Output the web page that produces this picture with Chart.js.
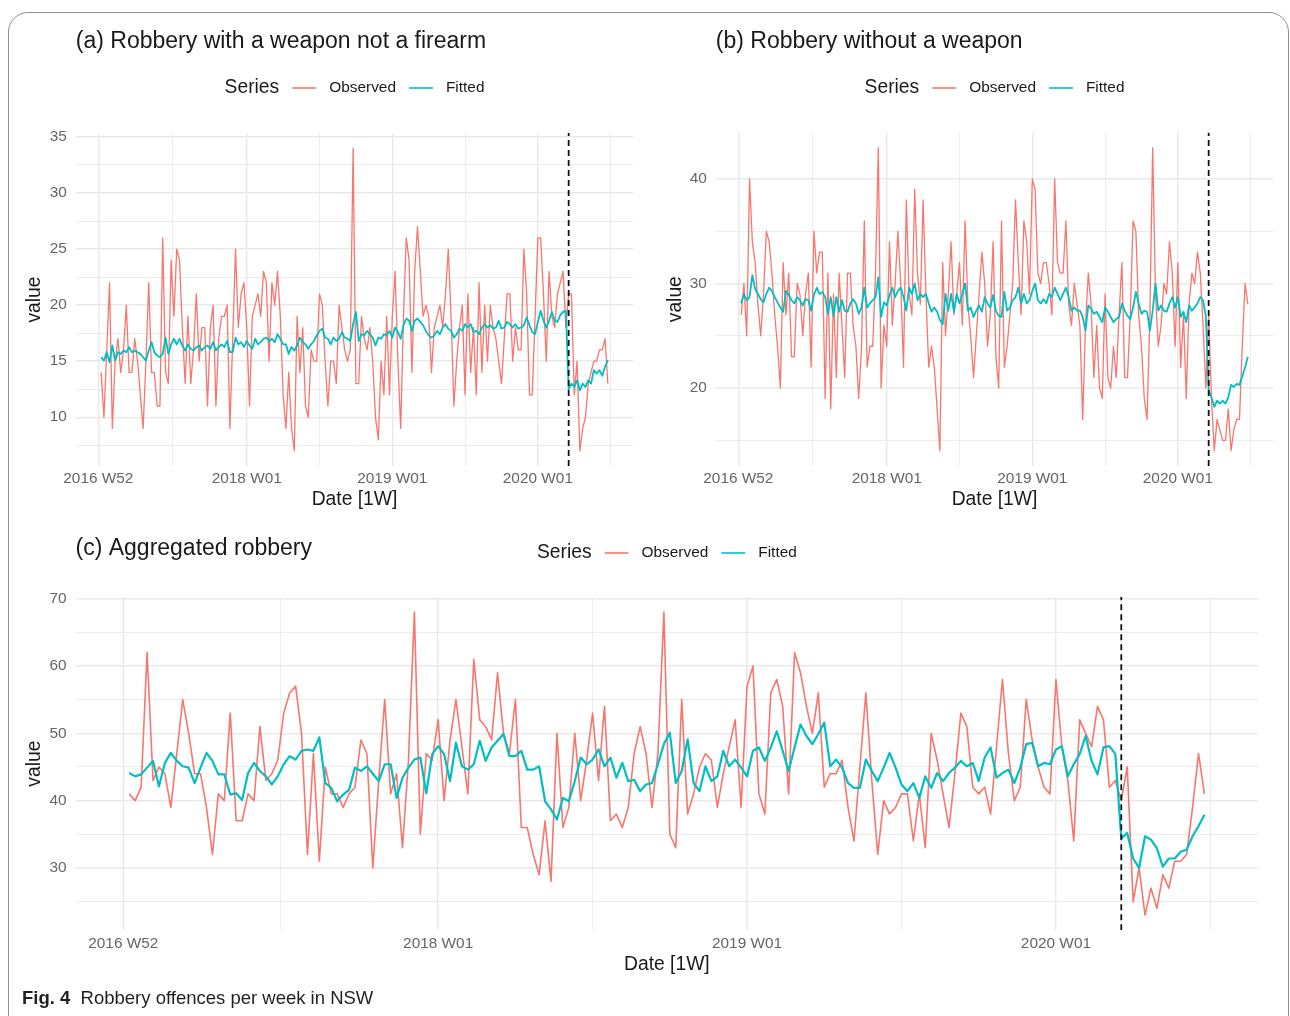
<!DOCTYPE html>
<html><head><meta charset="utf-8">
<script src="https://cdn.jsdelivr.net/npm/chart.js@4.4.0/dist/chart.umd.min.js"></script>
<style>
html,body{margin:0;padding:0;background:#fff;}
body{width:1290px;height:1016px;position:relative;overflow:hidden;font-family:"Liberation Sans",Arial,sans-serif;}
.frame{position:absolute;left:8px;top:12px;width:1281px;height:1100px;border:1px solid #8f8f8f;border-radius:20px;box-sizing:border-box;}
.cv{position:absolute;}
#caption{position:absolute;left:22px;top:987px;font-size:18.5px;line-height:22px;color:#231f20;white-space:nowrap;}
</style></head>
<body>
<div class="frame"></div>
<div class="cv" style="left:0;top:0;width:645px;height:525px"><canvas id="ca" width="645" height="525"></canvas></div>
<div class="cv" style="left:645px;top:0;width:645px;height:525px"><canvas id="cb" width="645" height="525"></canvas></div>
<div class="cv" style="left:0;top:525px;width:1290px;height:491px"><canvas id="cc" width="1290" height="491"></canvas></div>
<div id="caption"><b>Fig. 4</b>&nbsp;&nbsp;Robbery offences per week in NSW</div>
<script>
// ---------------- DATA ----------------
const xMajorLabels = ['2016 W52', '2018 W01', '2019 W01', '2020 W01'];
const interventionWeek = '2020 W12';
const seriesNames = ['Observed', 'Fitted'];

const yMajorA = [10, 15, 20, 25, 30, 35];
const yMajorB = [20, 30, 40];
const yMajorC = [30, 40, 50, 60, 70];

const obsA = [14,10,16,22,9,15,17,14,16,20, 14,14,17,15,12,9,15,22,14,14, 11,11,26,14,13,24,19,25,24,18,
  13,19,13,16,21,15,18,18,11,18, 20,11,17,19,19,20,9,17,25,18, 21,22,18,11,19,20,21,19,23,22,
  15,22,20,23,19,12,9,14,9,7, 19,14,18,11,10,16,15,15,21,20, 15,11,15,15,13,20,18,16,15,16,
  34,13,13,19,17,16,18,15,10,8, 15,12,19,12,19,23,15,9,19,26, 24,14,23,27,23,19,20,19,14,18,
  19,20,18,21,25,19,11,15,18,20, 12,21,14,18,12,22,14,20,15,20, 18,17,15,13,17,21,21,15,18,16,
  16,25,21,12,12,19,26,26,21,15, 23,19,18,21,22,23,18,21,21,12, 15,7,9,10,13,14,15,15,16,16, 17,13];
const fitA = [15.35,15.05,15.8,14.9,16.4,15.05,15.8,15.65,15.95,15.8, 16.25,15.8,15.95,15.8,15.65,15.35,15.05,15.95,16.7,15.8,
  15.5,15.35,15.65,17.1,15.65,16.5,17,16.5,17,16.4, 15.95,16.5,16.1,15.95,16.25,16.4,15.95,16.25,16.4,16.1,
  16.7,15.95,16.25,16.5,16.25,16.8,15.8,15.8,17.1,16.5, 16.7,16.25,16.8,16.4,16.1,17,16.5,16.7,17,17.1,
  16.8,17,16.7,17.4,17,16.5,16.5,15.65,16.25,15.95, 16.4,17.1,16.7,16.5,16.1,16.5,16.8,17.3,17.7,17.9,
  17.1,17,16.5,17.1,16.8,17,17.6,17.1,17,16.8, 18.3,19.4,16.8,17.4,17.3,17.7,17.4,17.1,16.4,17.1,
  17,17.4,17.3,17.7,17.1,18,17.6,17,18.2,18.8, 18.6,17.7,18.6,18.8,18.5,18.2,17.7,17.3,17.1,17.3,
  17.7,17.4,18,18.3,17.9,17.7,17.1,17.4,17.9,17.7, 18.3,18,18.3,17.6,17.7,17.4,18,18.3,18,18.2,
  17.9,18,18.6,17.9,18,18.5,18.3,18,18.3,17.9, 18,18.2,18.9,18.2,17.6,17.4,18.5,19.5,18.6,18,
  18.6,19.4,18.6,18.5,19.1,19.4,19.5,12.5,13,12.7, 13.3,12.4,13,12.7,13.3,13,14.2,13.9,14.2,13.7, 14.5,15.1];

const obsB = [27,30,25,40,34,32,28,25,29,35, 34,31,27,24,20,32,27,31,23,23, 30,29,25,29,31,22,35,31,33,33,
  19,31,18,29,21,31,26,21,31,31, 26,24,19,24,36,22,24,24,31,43, 20,26,24,34,26,30,35,30,22,38,
  29,27,39,31,28,38,29,22,24,22, 18,14,32,25,29,34,27,29,32,26, 36,28,25,21,25,29,33,30,24,27,
  34,23,20,36,22,24,27,30,38,32, 27,36,34,29,40,39,31,30,32,32, 30,27,40,32,31,31,36,28,26,30,
  28,26,17,26,31,28,21,26,20,19, 29,21,20,24,21,27,32,21,21,27, 36,35,27,24,19,17,27,43,29,24,
  26,30,29,34,31,24,32,22,27,19, 28,31,30,33,31,26,20,27,19,14, 17,16,15,15,18,14,16,17,17,24, 30,28];
const fitB = [28.1,29,28.4,28.7,30.8,29.5,29,28.5,28.2,29, 29.6,29.3,28.7,28.2,27.7,27.3,29.3,28.9,28.4,28.1,
  28.7,28.4,27.9,28.5,28.4,27.4,28.9,29.6,29,29.2, 28.7,27.1,28.7,26.9,28.7,27.3,28.4,27.4,27.3,28.1,
  28.5,28.1,27.1,27.7,29.6,27.7,28.1,28.4,28.7,30.6, 26.8,28.2,27.9,28.9,29.6,28.7,29.3,29.6,28.7,27.4,
  29.6,29,30,28.4,29,28.7,29,28.1,27.3,27.7, 27.3,26.5,26.1,29,27.4,29,27.3,29,28.1,29,
  30,27.4,27.7,26.8,27.4,27.9,27.3,28.7,28.1,27.7, 28.9,27.4,26.9,26.8,29.2,27.4,27.7,28.4,28.7,29.6,
  28.1,29,28.1,28.4,29.3,30,28.4,28.1,28.5,28.1, 29,28.7,29.6,29,28.4,29,29.6,28.7,27.4,27.7,
  27.4,27.4,26.8,25.5,27.9,27.6,27.1,27.3,26.8,26.3, 27.7,27.3,26.8,26.3,26.6,26.8,28.1,27.4,26.9,26.6,
  27.7,29.2,28.1,27.1,27.4,27.3,25.5,27.4,30,27.4, 27.9,27.4,27.3,28.1,28.7,27.7,28.7,26.8,27.3,26.3,
  27.9,27.4,27.7,28.1,28.7,28.4,26.8,19.8,19.1,18.2, 18.8,18.5,18.8,18.5,19.1,20.3,20.1,20.4,20.3,21.1, 22,23];

const obsC = [41,40,42,62,43,45,44,39,47,55, 50,44,44,39,32,41,40,53,37,37, 41,40,51,43,44,46,53,56,57,50,
  32,47,31,45,41,41,39,41,42,49, 47,30,43,55,41,44,33,46,68,35, 47,46,52,40,49,55,48,41,61,52,
  51,49,59,50,47,55,36,36,32,29, 37,28,50,36,39,50,40,46,53,43, 54,37,38,36,39,47,51,47,39,47,
  68,35,33,55,38,41,45,47,46,39, 44,48,52,39,57,60,41,38,56,58, 54,41,62,59,54,50,56,42,44,44,
  46,39,34,45,56,43,32,40,38,39, 41,41,34,41,33,50,46,41,36,44, 53,51,42,41,42,38,48,58,47,40,
  42,55,49,45,42,41,58,48,43,34, 52,50,48,54,52,42,43,40,45,25, 30,23,27,24,29,27,31,31,32,39, 47,41];
const fitC = [44.1,43.6,43.9,44.9,45.9,42.1,45.6,47.1,45.9,45.1, 44.9,42.6,44.9,47.1,45.9,43.9,43.9,40.9,41.1,40.1,
  44.1,45.6,44.4,43.6,42.4,43.6,45.4,46.6,46.1,47.4, 47.6,47.4,49.4,42.6,41.9,39.9,40.9,41.6,44.9,44.4,
  45.1,44,42.9,45.4,45.4,40.4,43.4,44.9,46.1,46.4, 41.1,46.9,48.1,46.9,42.9,48.6,45.1,44.6,45.4,48.9,
  45.9,47.9,48.9,49.9,46.6,46.6,47.4,44.6,44.6,45.1, 39.9,38.7,37.2,40.4,39.9,42.9,46.4,45.4,46.1,47.6,
  45.1,46.4,43.4,45.6,42.9,43.1,41.4,42.4,42.6,45.4, 48.4,50.1,42.6,44.4,49.1,42.6,41.4,45.1,42.9,43.6,
  47.4,45.1,46.1,44.9,43.6,47.4,47.9,45.9,47.9,50.3, 47.4,44.4,47.9,51.3,49.6,48.4,49.9,51.6,45.1,46.1,
  44.9,42.6,41.9,41.9,46.1,44.4,42.9,44.9,47.1,44.9, 42.4,41.4,42.6,40.4,43.6,41.9,44.1,42.9,44.1,44.9,
  45.9,45.1,45.6,42.9,46.4,47.9,43.4,44.1,44.6,42.6, 44.9,48.4,48.6,45.1,45.6,45.4,47.6,48.1,43.6,45.4,
  46.9,49.6,45.9,43.9,47.9,48.1,46.9,34.4,35.2,31.4, 30,34.7,34.2,32.9,30.2,31.4,31.4,32.4,32.7,34.7, 36.2,37.9];

// ---------------- HELPERS ----------------
const FONT = '"Liberation Sans", Arial, Helvetica, sans-serif';
Chart.defaults.font.family = FONT;
const RED = '#F8766D', TEAL = '#00BFC4', GRID = '#e9e9e9', TICKC = '#666666', TXT = '#1a1a1a';

// ISO-week label -> week index (0 = 2017 W01); 2017-2019 have 52 weeks
function weekIndex(label) {
  const m = label.match(/(\d{4}) W(\d{2})/);
  return (parseInt(m[1]) - 2017) * 52 + parseInt(m[2]) - 1;
}
const weeks = obsA.map((_, i) => {
  const y = 2017 + Math.floor(i / 52), w = i % 52 + 1;
  return y + ' W' + String(w).padStart(2, '0');
});

const xMajors = xMajorLabels.map(weekIndex);
const n = weeks.length;
const xMin = -0.05 * (n - 1), xMax = (n - 1) * 1.05;
function withMinors(majors, lo, hi) {
  const out = majors.map(v => ({ value: v, major: true }));
  const step0 = majors[1] - majors[0], stepN = majors[majors.length - 1] - majors[majors.length - 2];
  for (let k = 0; k < majors.length - 1; k++) out.push({ value: (majors[k] + majors[k + 1]) / 2, major: false });
  const before = majors[0] - step0 / 2, after = majors[majors.length - 1] + stepN / 2;
  if (before >= lo) out.push({ value: before, major: false });
  if (after <= hi) out.push({ value: after, major: false });
  return out.sort((a, b) => a.value - b.value);
}
const xTicks = withMinors(xMajors, xMin, xMax);

const ggLegend = {
  id: 'ggLegend',
  afterDraw(chart, args, opts) {
    const ctx = chart.ctx, ca = chart.chartArea;
    const items = seriesNames.map(nm => chart.data.datasets.find(d => d.label === nm));
    const titleFont = '19.3px ' + FONT, labFont = '15.4px ' + FONT;
    const sw = 24, gap = 13;
    ctx.save();
    ctx.font = titleFont;
    const tw = ctx.measureText('Series').width;
    ctx.font = labFont;
    const widths = items.map(d => ctx.measureText(d.label).width);
    let total = tw;
    widths.forEach(w => { total += gap + sw + gap + w; });
    let x = (ca.left + ca.right) / 2 - total / 2;
    const y = opts.y;
    ctx.textBaseline = 'middle'; ctx.textAlign = 'left';
    ctx.fillStyle = TXT; ctx.font = titleFont;
    ctx.fillText('Series', x, y); x += tw;
    items.forEach((d, k) => {
      x += gap;
      ctx.strokeStyle = d.borderColor; ctx.lineWidth = 1.6;
      ctx.beginPath(); ctx.moveTo(x, y); ctx.lineTo(x + sw, y); ctx.stroke();
      x += sw + gap;
      ctx.font = labFont; ctx.fillStyle = TXT;
      ctx.fillText(d.label, x, y); x += widths[k];
    });
    ctx.restore();
  }
};

function makeChart(id, p) {
  const all = p.obs.concat(p.fit);
  const lo = Math.min(...all), hi = Math.max(...all), r = hi - lo;
  const yMin = lo - 0.05 * r, yMax = hi + 0.05 * r;
  const yTicks = withMinors(p.yMajor, yMin, yMax);
  const iv = weekIndex(interventionWeek);
  new Chart(document.getElementById(id), {
    type: 'line',
    data: {
      datasets: [
        { label: 'Intervention', data: [{ x: iv, y: yMin }, { x: iv, y: yMax }],
          borderColor: '#111', borderWidth: 1.8, borderDash: [6, 4], pointRadius: 0, order: 0 },
        { label: seriesNames[1], data: p.fit.map((v, i) => ({ x: weekIndex(weeks[i]), y: v })),
          borderColor: TEAL, borderWidth: p.wFit, pointRadius: 0, tension: 0, order: 1, borderJoinStyle: 'round' },
        { label: seriesNames[0], data: p.obs.map((v, i) => ({ x: weekIndex(weeks[i]), y: v })),
          borderColor: RED, borderWidth: p.wObs, pointRadius: 0, tension: 0, order: 2, borderJoinStyle: 'round' }
      ]
    },
    options: {
      responsive: false, animation: false, devicePixelRatio: 1, events: [],
      layout: { padding: { left: p.padL, right: p.padR, top: 0, bottom: p.padB } },
      scales: {
        x: {
          type: 'linear', min: xMin, max: xMax, bounds: 'data',
          afterBuildTicks: s => { s.ticks = xTicks.map(t => ({ value: t.value, major: t.major })); },
          afterFit: s => { s.height = 45.6; },
          grid: { color: GRID, lineWidth: c => (c.tick && c.tick.major) ? 1.4 : 0.8, drawTicks: false },
          border: { display: false },
          ticks: { autoSkip: false, maxRotation: 0, minRotation: 0, padding: 4, color: TICKC, font: { size: 15.4 },
            callback: (v, i, ts) => ts[i].major ? xMajorLabels[xMajors.indexOf(v)] : '' },
          title: { display: true, text: 'Date [1W]', color: TXT, font: { size: 19.3 }, padding: 0 }
        },
        y: {
          type: 'linear', min: yMin, max: yMax, bounds: 'data',
          afterBuildTicks: s => { s.ticks = yTicks.map(t => ({ value: t.value, major: t.major })); },
          afterFit: s => { s.width = p.yW; },
          grid: { color: GRID, lineWidth: c => (c.tick && c.tick.major) ? 1.4 : 0.8, drawTicks: false },
          border: { display: false },
          ticks: { padding: 9, color: TICKC, font: { size: 15.4 },
            callback: (v, i, ts) => ts[i].major ? String(v) : '' },
          title: { display: true, text: 'value', color: TXT, font: { size: 19.3 }, padding: 0 }
        }
      },
      plugins: {
        legend: { display: false },
        tooltip: { enabled: false },
        title: { display: true, text: p.title, align: 'start', fullSize: false, color: TXT,
          font: { size: 23, weight: 'normal' }, padding: { top: p.tTop, bottom: p.tBot } },
        ggLegend: { y: p.legendY }
      }
    },
    plugins: [ggLegend]
  });
}

makeChart('ca', { obs: obsA, fit: fitA, yMajor: yMajorA, title: '(a) Robbery with a weapon not a firearm',
  padL: 23.4, yW: 52.4, padR: 11.8, padB: 13.4, tTop: 28.2, tBot: 77.2, legendY: 88, wObs: 1.3, wFit: 1.8 });
makeChart('cb', { obs: obsB, fit: fitB, yMajor: yMajorB, title: '(b) Robbery without a weapon',
  padL: 19.4, yW: 51.4, padR: 16.8, padB: 13.5, tTop: 28.2, tBot: 76.7, legendY: 88, wObs: 1.3, wFit: 1.8 });
makeChart('cc', { obs: obsC, fit: fitC, yMajor: yMajorC, title: '(c) Aggregated robbery',
  padL: 23.4, yW: 52.1, padR: 31.8, padB: 40.2, tTop: 10.2, tBot: 34.2, legendY: 28, wObs: 1.6, wFit: 2.2 });
</script>
</body></html>
